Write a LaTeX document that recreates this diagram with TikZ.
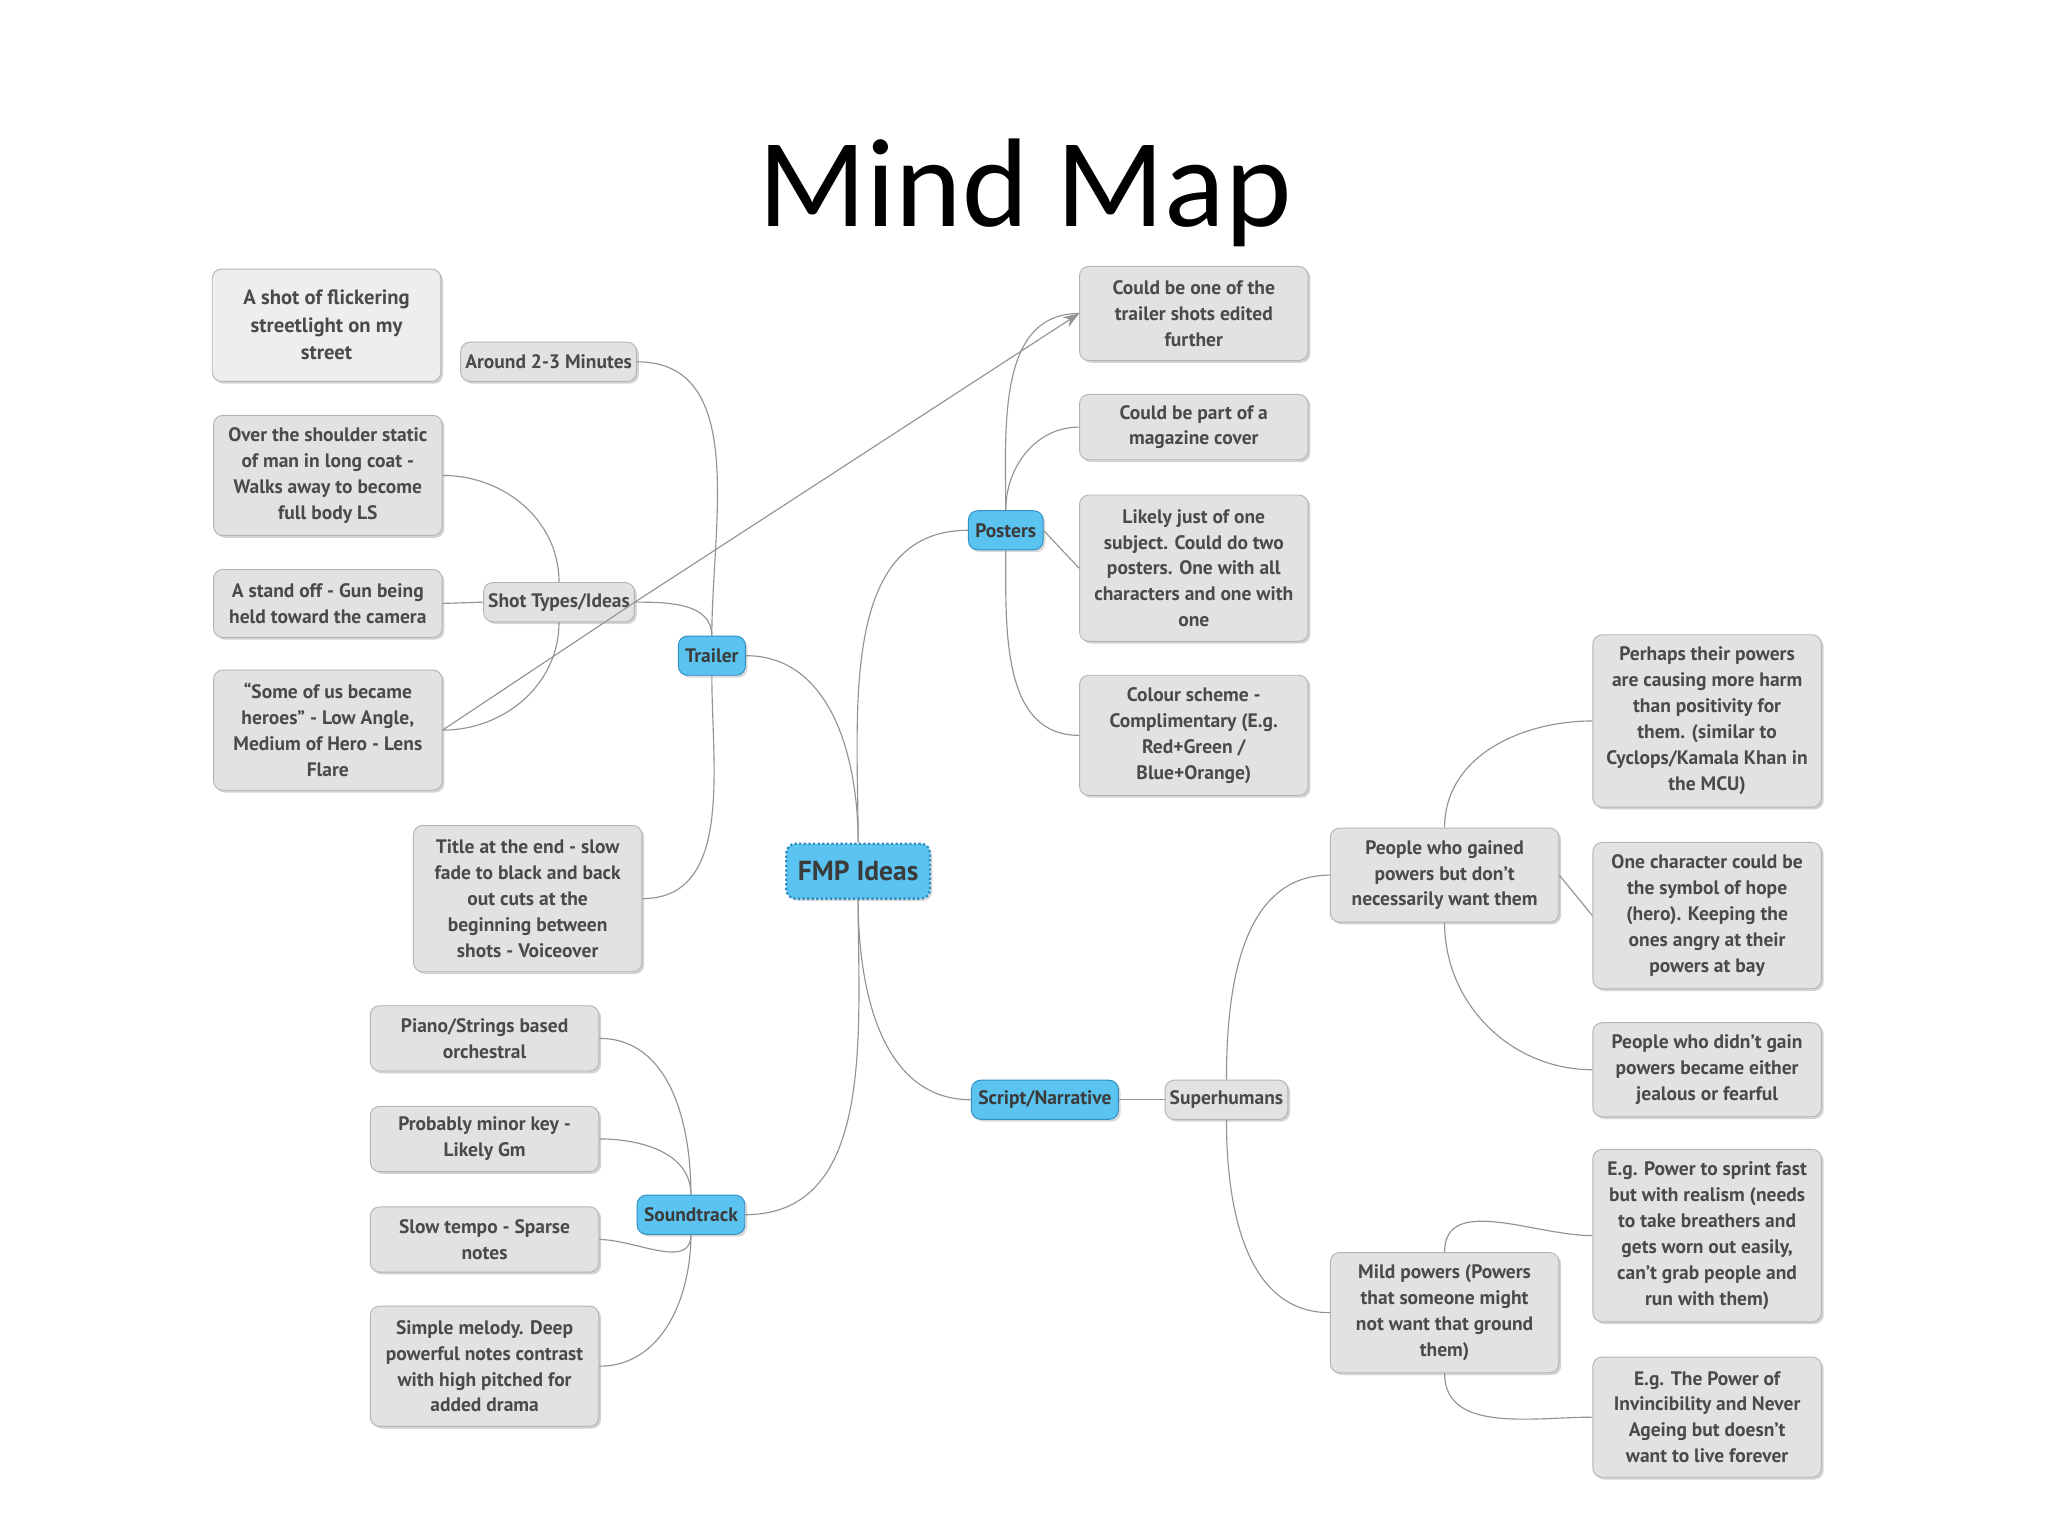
\documentclass[tikz,border=0pt]{standalone}
\usepackage{fontspec}
\setmainfont{PT Sans}
\newfontfamily\titlefont{Carlito}
\usetikzlibrary{shadows,arrows.meta}
\definecolor{txt}{HTML}{4A4A4A}
\definecolor{bfill}{HTML}{5BC3F0}
\definecolor{bline}{HTML}{2E8FC4}
\definecolor{gfill}{HTML}{E2E2E2}
\definecolor{gline}{HTML}{B4B4B4}
\tikzset{
 box/.style={draw=gline,fill=gfill,rounded corners=4pt,text=txt,font=\fontsize{8.5}{11.3}\selectfont\bfseries,align=center,minimum height=#1*0.02cm,inner sep=2pt,drop shadow={opacity=0.35,shadow xshift=1pt,shadow yshift=-1pt}},
 box/.default=30,
 gb/.style={box=#1,minimum width=3.5cm},
 blue/.style={draw=bline,fill=bfill,rounded corners=4pt,text=txt!80!black,font=\fontsize{8.5}{10}\selectfont\bfseries,minimum height=0.6cm,inner sep=3pt,drop shadow={opacity=0.3,shadow xshift=1pt,shadow yshift=-1pt}},
 ln/.style={draw=gray!85,line width=0.5pt},
}
\begin{document}
\begin{tikzpicture}[x=0.02cm,y=-0.02cm]
\useasboundingbox (0,0) rectangle (1568,1176);
\node[font=\titlefont\fontsize{55}{62}\selectfont] (title) at (785,148) {Mind Map};
\node[blue,font=\fontsize{12}{12}\selectfont\bfseries,draw=bline,line width=1pt,dash pattern=on 1pt off 1pt,minimum height=0.84cm,inner sep=5pt] (fmp) at (657,667) {FMP Ideas};
\node[blue] (trailer) at (545,502) {Trailer};
\node[blue] (posters) at (770,406) {Posters};
\node[blue] (script) at (800,842) {Script/Narrative};
\node[blue] (sound) at (529,930) {Soundtrack};
\node[box] (around) at (420,277) {Around 2-3 Minutes};
\node[box] (shot) at (428,461) {Shot Types/Ideas};
\node[gb=112] (titleend) at (404,688) {Title at the end - slow\\fade to black and back\\out cuts at the\\beginning between\\shots - Voiceover};
\node[gb=86,fill=gfill!60,font=\fontsize{9}{12}\selectfont\bfseries] (flicker) at (250,249) {A shot of flickering\\streetlight on my\\street};
\node[gb=92] (over) at (251,364) {Over the shoulder static\\of man in long coat -\\Walks away to become\\full body LS};
\node[gb=52] (standoff) at (251,462) {A stand off - Gun being\\held toward the camera};
\node[gb=92] (some) at (251,559) {``Some of us became\\heroes'' - Low Angle,\\Medium of Hero - Lens\\Flare};
\node[gb=72] (couldone) at (914,240) {Could be one of the\\trailer shots edited\\further};
\node[gb=50] (mag) at (914,327) {Could be part of a\\magazine cover};
\node[gb=112] (likely) at (914,435) {Likely just of one\\subject. Could do two\\posters. One with all\\characters and one with\\one};
\node[gb=92] (colour) at (914,563) {Colour scheme -\\Complimentary (E.g.\\Red+Green /\\Blue+Orange)};
\node[gb=50] (piano) at (371,795) {Piano/Strings based\\orchestral};
\node[gb=50] (minor) at (371,872) {Probably minor key -\\Likely Gm};
\node[gb=50] (slow) at (371,949) {Slow tempo - Sparse\\notes};
\node[gb=92] (melody) at (371,1046) {Simple melody. Deep\\powerful notes contrast\\with high pitched for\\added drama};
\node[box] (super) at (939,842) {Superhumans};
\node[gb=72] (gained) at (1106,670) {People who gained\\powers but don't\\necessarily want them};
\node[gb=92] (mild) at (1106,1005) {Mild powers (Powers\\that someone might\\not want that ground\\them)};
\node[gb=132] (perhaps) at (1307,552) {Perhaps their powers\\are causing more harm\\than positivity for\\them. (similar to\\Cyclops/Kamala Khan in\\the MCU)};
\node[gb=112] (onechar) at (1307,701) {One character could be\\the symbol of hope\\(hero). Keeping the\\ones angry at their\\powers at bay};
\node[gb=72] (didnt) at (1307,819) {People who didn't gain\\powers became either\\jealous or fearful};
\node[gb=132] (sprint) at (1307,946) {E.g. Power to sprint fast\\but with realism (needs\\to take breathers and\\gets worn out easily,\\can't grab people and\\run with them)};
\node[gb=92] (invinc) at (1307,1085) {E.g. The Power of\\Invincibility and Never\\Ageing but doesn't\\want to live forever};
% connectors
\draw[ln] (fmp.north) to[out=90,in=0] (trailer.east);
\draw[ln] (fmp.north) to[out=90,in=180] (posters.west);
\draw[ln] (fmp.south) to[out=-90,in=0] (sound.east);
\draw[ln] (fmp.south) to[out=-90,in=180] (script.west);
\draw[ln] (trailer.north) to[out=90,in=0] (around.east);
\draw[ln] (trailer.north) to[out=90,in=0] (shot.east);
\draw[ln] (trailer.south) to[out=-90,in=0] (titleend.east);
\draw[ln] (shot.north) to[out=90,in=0] (over.east);
\draw[ln] (shot.west) -- (standoff.east);
\draw[ln] (shot.south) to[out=-90,in=0] (some.east);
\draw[ln] (some.east) -- (shot.east);
\draw[ln,-{Stealth[length=7pt,width=5pt]}] (shot.east) -- (couldone.west);
\draw[ln] (posters.north) to[out=90,in=180] (couldone.west);
\draw[ln] (posters.north) to[out=90,in=180] (mag.west);
\draw[ln] (posters.east) -- (likely.west);
\draw[ln] (posters.south) to[out=-90,in=180] (colour.west);
\draw[ln] (sound.north) to[out=90,in=0] (piano.east);
\draw[ln] (sound.north) to[out=90,in=0] (minor.east);
\draw[ln] (sound.south) to[out=-90,in=0] (slow.east);
\draw[ln] (sound.south) to[out=-90,in=0] (melody.east);
\draw[ln] (script.east) -- (super.west);
\draw[ln] (super.north) to[out=90,in=180] (gained.west);
\draw[ln] (super.south) to[out=-90,in=180] (mild.west);
\draw[ln] (gained.north) to[out=90,in=180] (perhaps.west);
\draw[ln] (gained.east) -- (onechar.west);
\draw[ln] (gained.south) to[out=-90,in=180] (didnt.west);
\draw[ln] (mild.north) to[out=90,in=180] (sprint.west);
\draw[ln] (mild.south) to[out=-90,in=180] (invinc.west);
\end{tikzpicture}
\end{document}
